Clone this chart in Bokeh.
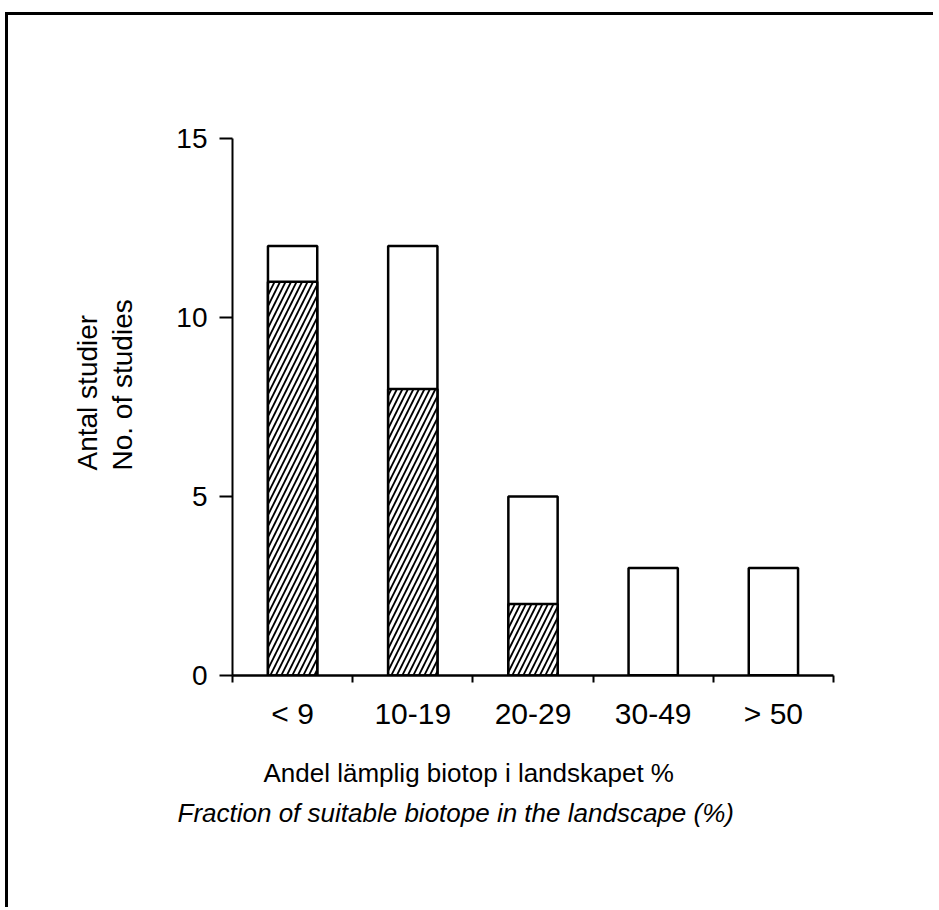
from bokeh.plotting import figure
from bokeh.models import Range1d, FixedTicker, ColumnDataSource, Title
from bokeh.embed import file_html
from bokeh.resources import INLINE

# ---- data ----
categories = ["< 9", "10-19", "20-29", "30-49", "> 50"]
total_studies = [12, 12, 5, 3, 3]
hatched_studies = [11, 8, 2, 0, 0]
y_ticks = [0, 5, 10, 15]

y_label_sv = "Antal studier"
y_label_en = "No. of studies"
x_label_sv = "Andel lämplig biotop i landskapet %"
x_label_en = "Fraction of suitable biotope in the landscape (%)"

FONT = "Liberation Sans"
FS_YTICK = "28px"
FS_XTICK = "30px"
FS_YLAB = "28px"
FS_XLAB = "26px"

centers = [i + 0.5 for i in range(len(categories))]

p = figure(
    frame_width=601, frame_height=537,
    min_border_left=224, min_border_top=123,
    min_border_right=100, min_border_bottom=232,
    x_range=Range1d(0, len(categories)), y_range=Range1d(0, 15),
    output_backend="svg", toolbar_location=None,
    background_fill_color="white", border_fill_color="white",
)
p.styles = {"border-top": "3px solid black", "border-left": "3px solid black",
            "margin-left": "5px", "margin-top": "12px"}
p.outline_line_color = None
p.xgrid.visible = False
p.ygrid.visible = False

src_total = ColumnDataSource(dict(x=centers, top=total_studies))
src_hatch = ColumnDataSource(dict(x=centers, top=hatched_studies))

p.vbar(x="x", top="top", bottom=0, width=0.41, source=src_total,
       fill_color="white", line_color="black", line_width=2.5)
p.vbar(x="x", top="top", bottom=0, width=0.41, source=src_hatch,
       fill_color="white", line_color="black", line_width=2.5,
       hatch_pattern="/", hatch_color="black", hatch_scale=11, hatch_weight=1.8)

# y axis
ya = p.yaxis[0]
ya.ticker = FixedTicker(ticks=y_ticks, minor_ticks=[])
ya.axis_line_width = 2
ya.axis_line_color = "black"
ya.major_tick_out = 13
ya.major_tick_in = 0
ya.major_tick_line_width = 2
ya.minor_tick_out = 0
ya.minor_tick_in = 0
ya.major_label_text_font = FONT
ya.major_label_text_font_size = FS_YTICK
ya.major_label_text_color = "black"
ya.major_label_standoff = 12

# x axis
xa = p.xaxis[0]
xa.ticker = FixedTicker(ticks=centers, minor_ticks=list(range(len(categories) + 1)))
xa.major_label_overrides = {c: lab for c, lab in zip(centers, categories)}
xa.axis_line_width = 2.5
xa.axis_line_color = "black"
xa.major_tick_out = 0
xa.major_tick_in = 0
xa.minor_tick_out = 7
xa.minor_tick_in = 0
xa.minor_tick_line_width = 2
xa.minor_tick_line_color = "black"
xa.major_label_text_font = FONT
xa.major_label_text_font_size = FS_XTICK
xa.major_label_text_color = "black"
xa.major_label_standoff = 14

# y axis label (two lines, rotated)
p.add_layout(Title(text=y_label_sv + "\n" + y_label_en, align="left", offset=205,
                   standoff=70, text_line_height=1.15,
                   text_font=FONT, text_font_size=FS_YLAB, text_font_style="normal",
                   text_color="black"), "left")

# x axis labels (titles below)
p.add_layout(Title(text=x_label_sv, align="left", offset=31, standoff=46,
                   text_font=FONT, text_font_size=FS_XLAB, text_font_style="normal",
                   text_color="black"), "below")
p.add_layout(Title(text=x_label_en, align="left", offset=-55, standoff=-30,
                   text_font=FONT, text_font_size=FS_XLAB, text_font_style="italic",
                   text_color="black"), "below")

open("out.html", "w").write(file_html(p, INLINE))
